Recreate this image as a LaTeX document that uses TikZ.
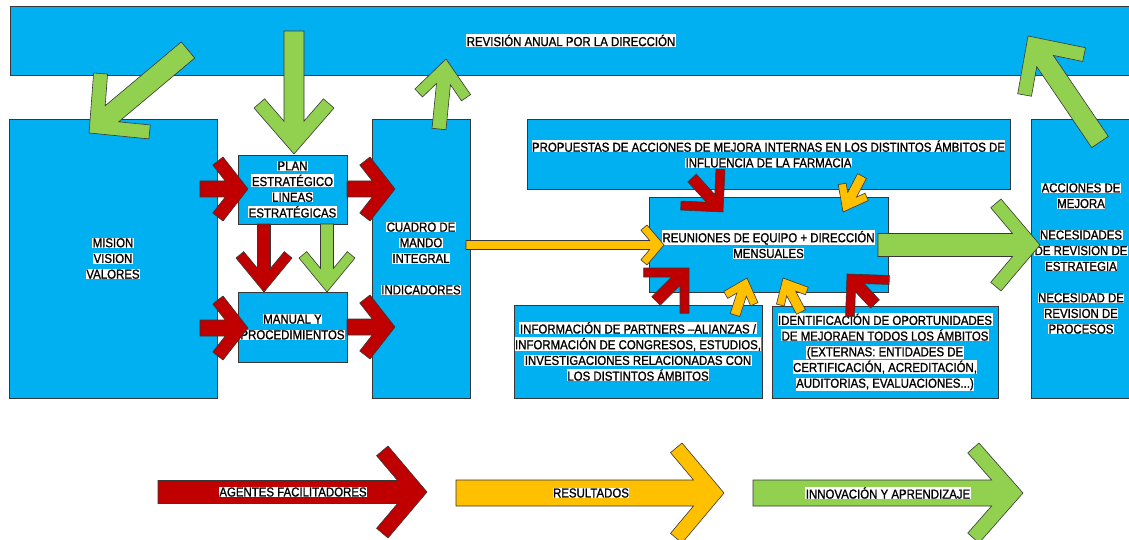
\documentclass[tikz,border=0pt]{standalone}
\usepackage{fontspec}
\setmainfont{Liberation Sans}[FakeStretch=0.88, FakeBold=1.2]
\usepackage{tikz}
\usetikzlibrary{calc}

\definecolor{boxblue}{RGB}{0,176,240}
\definecolor{efqmred}{RGB}{192,0,0}
\definecolor{efqmyellow}{RGB}{255,192,0}
\definecolor{efqmgreen}{RGB}{146,208,80}
\definecolor{edge}{RGB}{55,55,55}

% white highlight behind one line of text
\newcommand\hl[1]{{\setlength\fboxsep{0.5pt}\colorbox{white}{#1}}}

% block arrow with open head: [style]{from}{to}{half shaft}{head back}{head half span}{arm width}
\newcommand\fatarrow[7][]{%
  \pgfpointdiff{\pgfpointanchor{#2}{center}}{\pgfpointanchor{#3}{center}}%
  \pgfgetlastxy\fadx\fady
  \pgfmathsetmacro\faang{atan2(\fady,\fadx)}%
  \pgfmathsetmacro\falen{veclen(\fadx,\fady)}%
  \pgfmathsetmacro\fan{veclen(#5,#6)}%
  \pgfmathsetmacro\facx{\falen-#5-#7*#6/\fan}%
  \pgfmathsetmacro\facy{#6-#7*#5/\fan}%
  \pgfmathsetmacro\faix{\falen-#7*#6/\fan-(#4*\fan+#7*#5)/#6*#5/\fan}%
  \begin{scope}[shift={(#2)}, rotate=\faang, x=1pt, y=1pt]
    \draw[fat, #1] (0,#4) -- (\faix,#4) -- (\facx,\facy) -- (\falen-#5,#6)
      -- (\falen,0) -- (\falen-#5,-#6) -- (\facx,-\facy) -- (\faix,-#4)
      -- (0,-#4) -- cycle;
  \end{scope}}

\begin{document}
\begin{tikzpicture}[
    x=1pt, y=-1pt,
    box/.style={rectangle, draw=edge, line width=0.7pt, fill=boxblue, align=center, inner sep=0pt, font=\fontsize{13}{15.7}\selectfont},
    lbl/.style={align=center, inner sep=0pt, font=\fontsize{13}{15.7}\selectfont},
    fat/.style={draw=edge, line width=0.6pt, line join=miter},
]
\useasboundingbox (0,0) rectangle (1129,540);
\clip (0,0) rectangle (1129,540);

% === BOXES ===
\node[box, minimum width=1122pt, minimum height=69pt] (revision) at (571,40.5) {\hl{REVISIÓN ANUAL POR LA DIRECCIÓN}};

\node[box, minimum width=208pt, minimum height=279pt] (mision) at (113,258.5) {\hl{MISION}\\\hl{VISION}\\\hl{VALORES}};
\node[box, minimum width=109pt, minimum height=69pt] (plan) at (292.5,189.5) {\hl{PLAN}\\\hl{ESTRATÉGICO}\\\hl{LINEAS}\\\hl{ESTRATÉGICAS}};
\node[box, minimum width=109pt, minimum height=70pt] (manual) at (292.5,327) {\hl{MANUAL Y}\\\hl{PROCEDIMIENTOS}};
\node[box, minimum width=98pt, minimum height=279pt] (cuadro) at (421,258.5) {\hl{CUADRO DE}\\\hl{MANDO}\\\hl{INTEGRAL}\\\mbox{}\\\hl{INDICADORES}};

\node[box, minimum width=483pt, minimum height=70pt] (propuestas) at (768.5,154) {\hl{PROPUESTAS DE ACCIONES DE MEJORA INTERNAS EN LOS DISTINTOS ÁMBITOS DE}\\\hl{INFLUENCIA DE LA FARMACIA}};
\node[box, minimum width=239pt, minimum height=95pt] (reuniones) at (768.5,244.5) {\hl{REUNIONES DE EQUIPO + DIRECCIÓN}\\\hl{MENSUALES}};
\node[box, minimum width=248pt, minimum height=93pt] (partners) at (638,351.5) {\hl{INFORMACIÓN DE PARTNERS –ALIANZAS /}\\\hl{INFORMACIÓN DE CONGRESOS, ESTUDIOS,}\\\hl{INVESTIGACIONES RELACIONADAS CON}\\\hl{LOS DISTINTOS ÁMBITOS}};
\node[box, minimum width=226pt, minimum height=92pt] (oportunidades) at (885,352) {\hl{IDENTIFICACIÓN DE OPORTUNIDADES}\\\hl{DE MEJORAEN TODOS LOS ÁMBITOS}\\\hl{(EXTERNAS: ENTIDADES DE}\\\hl{CERTIFICACIÓN, ACREDITACIÓN,}\\\hl{AUDITORIAS, EVALUACIONES...)}};
\node[box, minimum width=100pt, minimum height=279pt] (acciones) at (1081,258.5) {\hl{ACCIONES DE}\\\hl{MEJORA}\\\mbox{}\\\hl{NECESIDADES}\\\hl{DE REVISION DE}\\\hl{ESTRATEGIA}\\\mbox{}\\\hl{NECESIDAD DE}\\\hl{REVISION DE}\\\hl{PROCESOS}};

% === ARROW END POINTS ===
\coordinate (revA) at (188,50);   \coordinate (misA) at (89,133);
\coordinate (revB) at (294,31);   \coordinate (planN) at (294,154);
\coordinate (cuaN) at (439,129);  \coordinate (revC) at (446,59);
\coordinate (misE1) at (200,189); \coordinate (planW) at (248,189);
\coordinate (misE2) at (200,328); \coordinate (manW) at (248,328);
\coordinate (planE) at (347,189); \coordinate (cuaW1) at (395,189);
\coordinate (manE) at (347,327);  \coordinate (cuaW2) at (395,327);
\coordinate (planS1) at (264,224); \coordinate (manN1) at (264,292);
\coordinate (planS2) at (327,224); \coordinate (manN2) at (327,292);
\coordinate (cuaE) at (466,245);  \coordinate (reuW) at (664,245);
\coordinate (proS1) at (692,178); \coordinate (reuN1) at (723,212);
\coordinate (proS2) at (862,176); \coordinate (reuN2) at (843,212);
\coordinate (parN1) at (656,301); \coordinate (reuS1) at (689,268);
\coordinate (parN2) at (735,315); \coordinate (reuS2) at (747,278);
\coordinate (opoN1) at (801,312); \coordinate (reuS3) at (783,278);
\coordinate (opoN2) at (875,304); \coordinate (reuS4) at (847,274);
\coordinate (reuE) at (878,245);  \coordinate (accW) at (1040,245);
\coordinate (accN) at (1100,142); \coordinate (revD) at (1028,36);

% === FLOW ARROWS ===
% revision down / up
\fatarrow[fill=efqmgreen]{revA}{misA}{10.5}{42}{43}{14}
\fatarrow[fill=efqmgreen]{revB}{planN}{10}{46}{40}{14}
\fatarrow[fill=efqmgreen]{cuaN}{revC}{7}{33}{28}{11}

% agentes facilitadores
\fatarrow[fill=efqmred]{misE1}{planW}{8}{25}{32}{13}
\fatarrow[fill=efqmred]{misE2}{manW}{8}{25}{32}{13}
\fatarrow[fill=efqmred]{planE}{cuaW1}{8}{25}{32}{13}
\fatarrow[fill=efqmred]{manE}{cuaW2}{8}{25}{32}{13}
\fatarrow[fill=efqmred]{planS1}{manN1}{6.5}{34}{28}{10}
\fatarrow[fill=efqmgreen]{planS2}{manN2}{6.5}{34}{28}{10}

% into reuniones
\fatarrow[fill=efqmyellow]{cuaE}{reuW}{4.5}{17}{20}{8}
\fatarrow[fill=efqmred]{proS1}{reuN1}{5.7}{30}{30}{9}
\fatarrow[fill=efqmyellow]{proS2}{reuN2}{5}{22}{17}{8}
\fatarrow[fill=efqmred]{parN1}{reuS1}{6}{32}{32}{9}
\fatarrow[fill=efqmyellow]{parN2}{reuS2}{5}{20}{18}{8}
\fatarrow[fill=efqmyellow]{opoN1}{reuS3}{5}{20}{18}{8}
\fatarrow[fill=efqmred]{opoN2}{reuS4}{6}{30}{30}{9}

% out to acciones and back to revision
\fatarrow[fill=efqmgreen]{reuE}{accW}{11.5}{39}{46}{13.5}
\fatarrow[fill=efqmgreen]{accN}{revD}{10}{42}{41}{14}

% === LEGEND ===
\coordinate (agS) at (158,492); \coordinate (agE) at (427,492);
\coordinate (resS) at (456,493); \coordinate (resE) at (724,493);
\coordinate (innS) at (753,493); \coordinate (innE) at (1023,493);
\fatarrow[fill=efqmred]{agS}{agE}{11.5}{39}{46}{15}
\fatarrow[fill=efqmyellow]{resS}{resE}{13}{42}{50}{15}
\fatarrow[fill=efqmgreen]{innS}{innE}{13}{44}{50}{15}
\node[lbl] (agentes) at (293,492) {\hl{AGENTES FACILITADORES}};
\node[lbl] (resultados) at (591,493) {\hl{RESULTADOS}};
\node[lbl] (innovacion) at (888,493) {\hl{INNOVACIÓN Y APRENDIZAJE}};

\end{tikzpicture}
\end{document}
